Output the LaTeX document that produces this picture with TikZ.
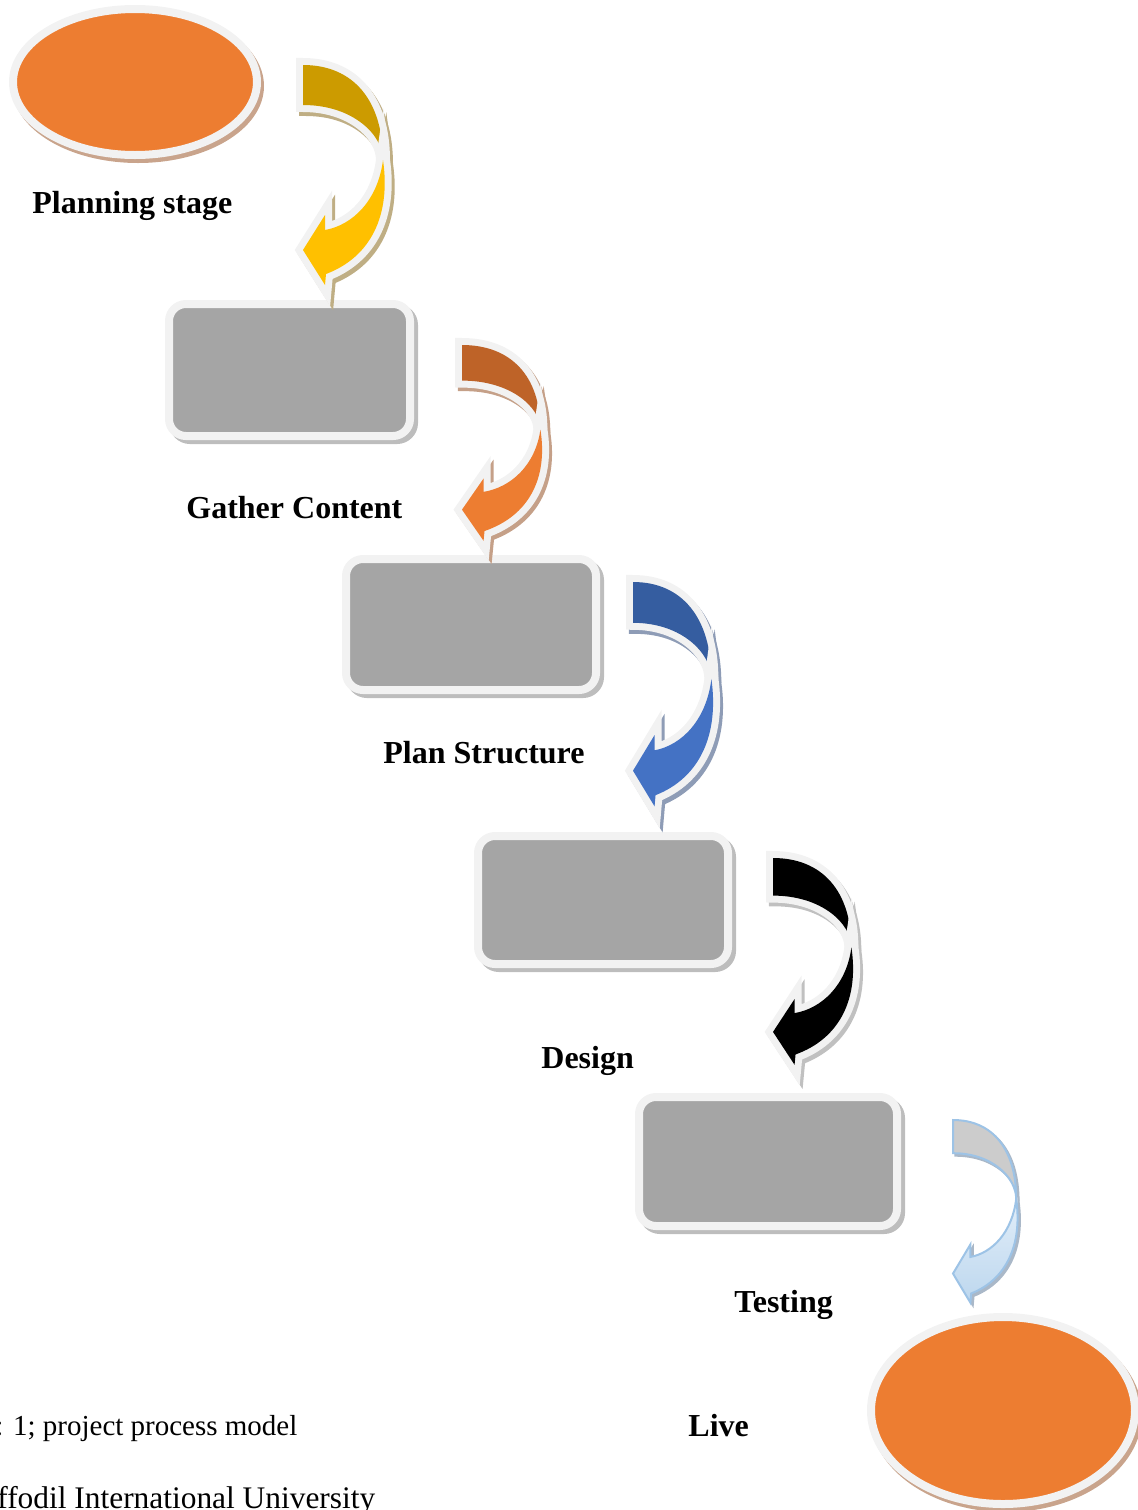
\documentclass[tikz,border=0pt]{standalone}
\usepackage{fontspec}
\setmainfont{Liberation Serif}
\usetikzlibrary{shapes.geometric}

% palette
\definecolor{rim}{HTML}{F2F2F2}
\definecolor{boxgray}{HTML}{A5A5A5}
\definecolor{boxshade}{HTML}{BDBDBD}
\definecolor{ovalfill}{HTML}{ED7D31}
\definecolor{ovalshade}{HTML}{C9A48C}
\definecolor{golddark}{HTML}{CC9B00}
\definecolor{goldlight}{HTML}{FFC000}
\definecolor{goldshade}{HTML}{BFAE84}
\definecolor{orangedark}{HTML}{BE6328}
\definecolor{orangelight}{HTML}{ED7D31}
\definecolor{orangeshade}{HTML}{C5A088}
\definecolor{bluedark}{HTML}{355DA0}
\definecolor{bluelight}{HTML}{4472C4}
\definecolor{blueshade}{HTML}{8E9CB6}
\definecolor{blackshade}{HTML}{C0C0C0}
\definecolor{palegray}{HTML}{CCCCCC}
\definecolor{paletop}{HTML}{E2EEF9}
\definecolor{palebottom}{HTML}{BDD7EE}
\definecolor{paleline}{HTML}{9DC3E6}
\definecolor{paleshade}{HTML}{AAB8C8}

\tikzset{
  % rounded stage box with light rim and offset shadow
  stagebox/.style={draw=rim, line width=4pt, fill=boxgray, rounded corners=8.5pt,
    inner sep=0pt, outer sep=0pt,
    preaction={draw=boxshade, fill=boxshade, transform canvas={xshift=2pt, yshift=-2pt}}},
  % orange start / end oval
  stageoval/.style={ellipse, draw=rim, line width=4pt, fill=ovalfill, inner sep=0pt,
    preaction={draw=ovalshade, fill=ovalshade, transform canvas={xshift=1.5pt, yshift=-2pt}}},
  stagelabel/.style={font=\fontsize{16}{19}\selectfont\bfseries, inner sep=0pt, anchor=base west},
  bodytext/.style={inner sep=0pt, anchor=base west},
  % the two pieces of the curved arrow (units are pixels, y down)
  backpart/.style={insert path={(0,0) .. controls (50,0) and (80,35) .. (80,95)
      .. controls (80,70) and (50,40) .. (0,40) -- cycle}},
  frontpart/.style={insert path={(80,95) .. controls (88,150) and (68,192) .. (23,209)
      -- (22,220) -- (0,185) -- (22,150) -- (22,165)
      .. controls (50,160) and (75,135) .. (80,95) -- cycle}},
}

% curved arrow with light rim: #1 back colour, #2 front colour, #3 shadow colour
\newcommand\turnarrow[3]{%
  \path[fill=#3, draw=#3, line width=7pt, shift={(3,4)}] [backpart];
  \path[fill=#3, draw=#3, line width=7pt, shift={(3,4)}] [frontpart];
  \path[fill=rim, draw=rim, line width=7pt] [backpart];
  \path[fill=#1] [backpart];
  \path[fill=rim, draw=rim, line width=7pt] [frontpart];
  \path[fill=#2] [frontpart];
}
% pale curved arrow with thin blue outline
\newcommand\paleturnarrow{%
  \path[fill=paleshade, draw=paleshade, line width=1pt, shift={(3,3)}] [backpart];
  \path[fill=paleshade, draw=paleshade, line width=1pt, shift={(3,3)}] [frontpart];
  \path[fill=palegray, draw=paleline, line width=1pt] [backpart];
  \path[top color=paletop, bottom color=palebottom, draw=paleline, line width=1pt] [frontpart];
}

\begin{document}
\begin{tikzpicture}[x=0.5pt, y=-0.5pt]
  \useasboundingbox (0,0) rectangle (1137,1510);

  % stages
  \node[stageoval, minimum width=122pt, minimum height=73pt] (start) at (135,82) {};
  \node[stagebox, minimum width=120.5pt, minimum height=66pt] (gather) at (289.5,370) {};
  \node[stagebox, minimum width=125pt, minimum height=65.5pt] (structure) at (471,624.5) {};
  \node[stagebox, minimum width=125pt, minimum height=64pt] (design) at (603,900) {};
  \node[stagebox, minimum width=129pt, minimum height=64.5pt] (testing) at (768,1161.5) {};
  \node[stageoval, minimum width=132pt, minimum height=93.5pt] (live) at (1003,1410.5) {};

  % curved arrows between the stages
  \begin{scope}[shift={(303,65)}]
    \turnarrow{golddark}{goldlight}{goldshade}
  \end{scope}
  \begin{scope}[shift={(462,345)}, xscale=0.98, yscale=0.89]
    \turnarrow{orangedark}{orangelight}{orangeshade}
  \end{scope}
  \begin{scope}[shift={(633,582)}, xscale=0.98, yscale=1.02]
    \turnarrow{bluedark}{bluelight}{blueshade}
  \end{scope}
  \begin{scope}[shift={(773,858)}, xscale=0.98, yscale=0.94]
    \turnarrow{black}{black}{blackshade}
  \end{scope}
  \begin{scope}[shift={(953,1120)}, xscale=0.79, yscale=0.83]
    \paleturnarrow
  \end{scope}

  % stage names
  \node[stagelabel] (l1) at (32,213) {Planning stage};
  \node[stagelabel] (l2) at (186,518) {Gather Content};
  \node[stagelabel] (l3) at (383,763) {Plan Structure};
  \node[stagelabel] (l4) at (541,1068) {Design};
  \node[stagelabel] (l5) at (734,1312) {Testing};
  \node[stagelabel] (l6) at (688,1436) {Live};

  % page text
  \node[bodytext, font=\fontsize{14.5}{17}\selectfont] (cap) at (-5,1435) {: 1; project process model};
  \node[bodytext, font=\fontsize{15.7}{18}\selectfont] (uni) at (-3,1508) {ffodil International University};
\end{tikzpicture}
\end{document}
